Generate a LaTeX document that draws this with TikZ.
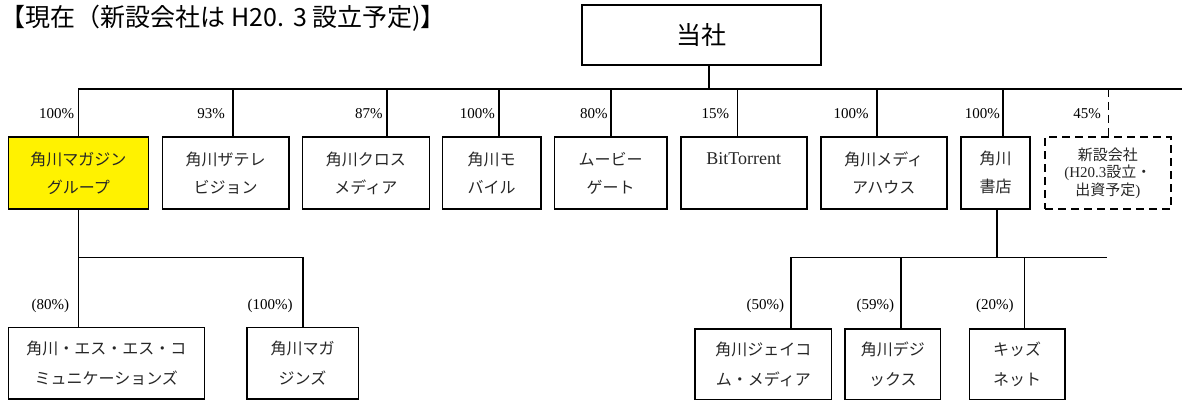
\documentclass[tikz,border=0pt]{standalone}
\usepackage{fontspec}
\setmainfont{Liberation Serif}
\newfontfamily\jp{Noto Sans CJK JP}

\begin{document}
\begin{tikzpicture}[x=1pt,y=-1pt,line width=1.6pt,
		unit/.style={draw,inner sep=0pt,align=center,text=black!85,minimum height=72.3,font=\jp\fontsize{16}{28}\selectfont},
		subunit/.style={unit,minimum height=70.5,font=\jp\fontsize{16}{30}\selectfont},
		planned/.style={dash pattern=on 8pt off 5pt},
		pct/.style={anchor=east,inner sep=0pt,font=\fontsize{15}{15}\selectfont}]

	\useasboundingbox (0,0) rectangle (1182,401);

	\node[anchor=west,inner sep=0pt,font=\jp\fontsize{25}{25}\selectfont] (ttl) at (0,18) {【現在（新設会社は H20.\hspace{0.35em}3 設立予定)】};

	% parent
	\node[draw,inner sep=0pt,minimum width=239,minimum height=60,font=\jp\fontsize{25}{25}\selectfont] (top) at (701.5,35) {当社};

	% first level
	\node[unit,fill=yellow,minimum width=140](kmg) at (78.3,172.9) {角川マガジン\\グループ};
	\node[unit,minimum width=126.4](tv) at (225.5,172.9) {角川ザテレ\\ビジョン};
	\node[unit,minimum width=127](cross) at (365.8,172.9) {角川クロス\\メディア};
	\node[unit,minimum width=98.7](mobile) at (491.7,172.9) {角川モ\\バイル};
	\node[unit,minimum width=112.4](movie) at (610.5,172.9) {ムービー\\ゲート};
	\node[unit,minimum width=126](bt) at (743.7,172.9) {{\rmfamily\fontsize{18}{28}\selectfont BitTorrent}\\~};
	\node[unit,minimum width=126](house) at (883.7,172.9) {角川メディ\\アハウス};
	\node[unit,minimum width=69](shoten) at (995.5,172.9) {角川\\書店};
	\node[unit,planned,minimum width=125.7,font=\jp\fontsize{15}{17.5}\selectfont](newco) at (1107.9,172.9) {新設会社\\{\rmfamily (H20.3}設立・\\出資予定{\rmfamily )}};

	% second level
	\node[subunit,minimum width=196,minimum height=71.3](sscom) at (106.3,363.3) {角川・エス・エス・コ\\ミュニケーションズ};
	\node[subunit,minimum width=111.6,minimum height=71.3](mags) at (302.5,363.3) {角川マガ\\ジンズ};
	\node[subunit,minimum width=136.7](jcom) at (763.3,364.1) {角川ジェイコ\\ム・メディア};
	\node[subunit,minimum width=95.7](digix) at (892.8,364.1) {角川デジ\\ックス};
	\node[subunit,minimum width=95.7](kids) at (1017.2,364.1) {キッズ\\ネット};

	% bus points
	\coordinate (hub) at (709,89);
	\coordinate (busR) at (1182,89);
	\coordinate (j1) at (78.3,89);
	\coordinate (j2) at (232.7,89);
	\coordinate (j3) at (386.7,89);
	\coordinate (j4) at (498.7,89);
	\coordinate (j5) at (610.7,89);
	\coordinate (j6) at (737.3,89);
	\coordinate (j7) at (877,89);
	\coordinate (j8) at (1002.7,89);
	\coordinate (j9) at (1108.3,89);
	\coordinate (k1) at (302.7,257.3);
	\coordinate (s0) at (996.7,257.3);
	\coordinate (s1) at (790.7,257.3);
	\coordinate (s2) at (900.7,257.3);
	\coordinate (s3) at (1024.3,257.3);
	\coordinate (sR) at (1106.7,257.3);

	\draw (top.south -| hub) -- (hub);
	\draw (j1 |- kmg.north) -- (j1) -- (busR);
	\path[draw]
	(j2) edge (j2 |- tv.north)
	(j3) edge (j3 |- cross.north)
	(j4) edge (j4 |- mobile.north)
	(j5) edge (j5 |- movie.north)
	(j6) edge (j6 |- bt.north)
	(j7) edge (j7 |- house.north)
	(j8) edge (j8 |- shoten.north);
	\draw[planned] (j9) -- (j9 |- newco.north);

	\draw (kmg.south) -- (kmg.south |- sscom.north);
	\draw (kmg.south |- k1) -- (k1) -- (k1 |- mags.north);
	\draw (s0 |- shoten.south) -- (s0);
	\draw (s1 |- jcom.north) -- (s1) -- (sR);
	\draw (s2) -- (s2 |- digix.north);
	\draw (s3) -- (s3 |- kids.north);

	% shares
	\node[pct](p1) at (75,114) {100\%};
	\node[pct](p2) at (225.7,114) {93\%};
	\node[pct](p3) at (383.3,114) {87\%};
	\node[pct](p4) at (495.7,114) {100\%};
	\node[pct](p5) at (608.3,114) {80\%};
	\node[pct](p6) at (730,114) {15\%};
	\node[pct](p7) at (869.3,114) {100\%};
	\node[pct](p8) at (1000.7,114) {100\%};
	\node[pct](p9) at (1101.7,114) {45\%};
	\node[pct](q1) at (70,306) {(80\%)};
	\node[pct](q2) at (293.3,306) {(100\%)};
	\node[pct](q3) at (785,306) {(50\%)};
	\node[pct](q4) at (895,306) {(59\%)};
	\node[pct](q5) at (1014.3,306) {(20\%)};
\end{tikzpicture}
\end{document}
